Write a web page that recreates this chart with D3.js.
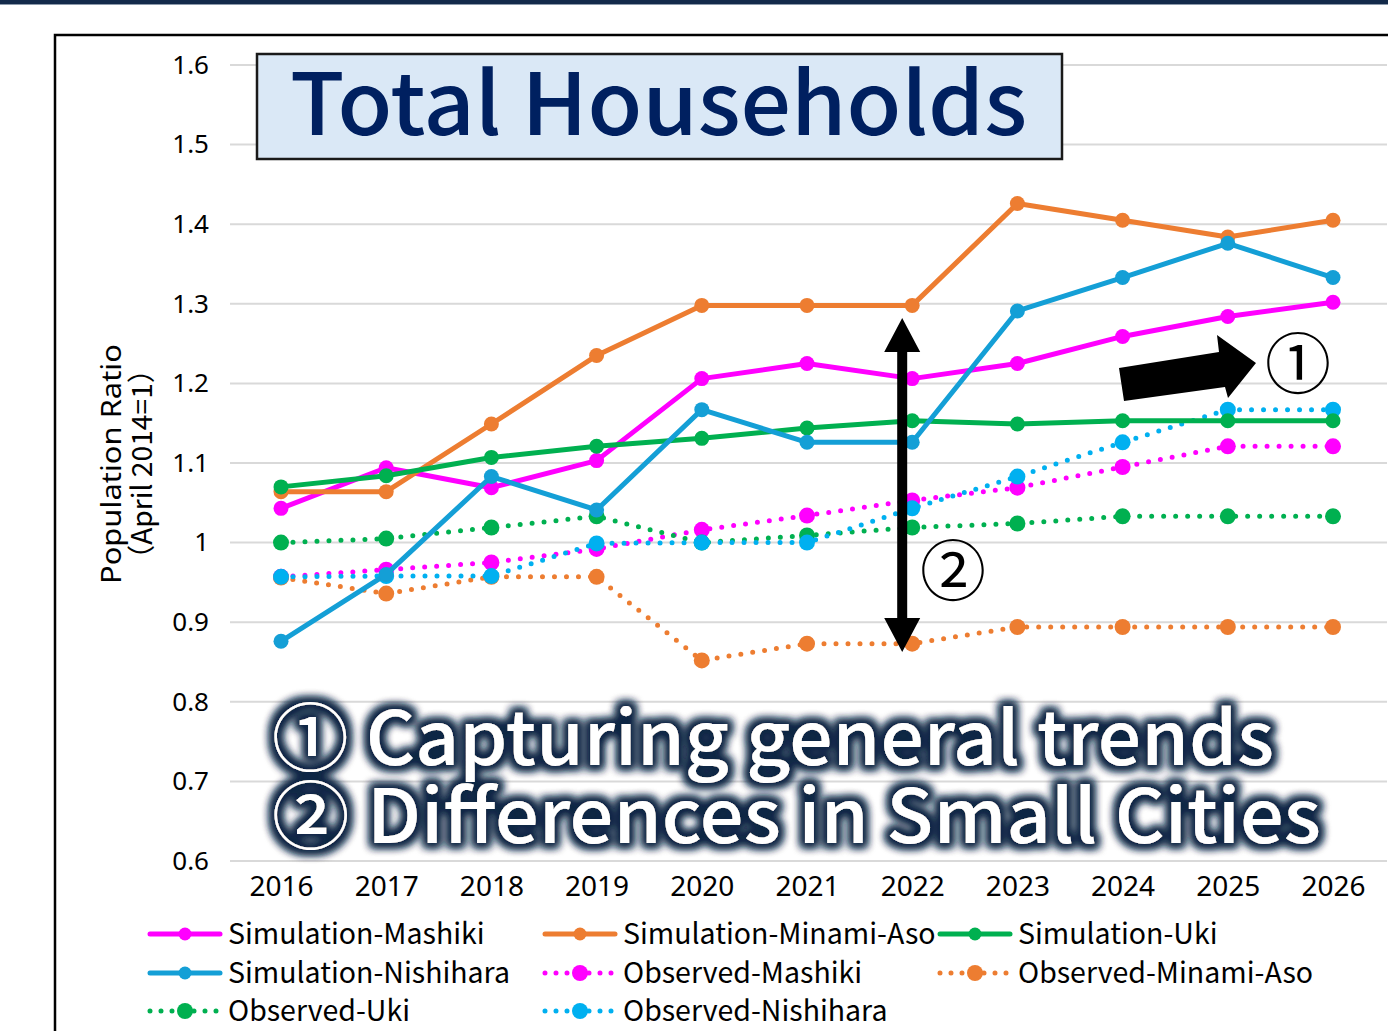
<!DOCTYPE html>
<html lang="en">
<head>
  <meta charset="UTF-8" />
  <title>Total Households</title>
  <script src="https://d3js.org/d3.v7.min.js"></script>
  <style>
    body { margin: 0; padding: 0; background: #fff; }
    svg { display: block; font-family: 'Noto Sans CJK JP', 'Noto Sans', sans-serif; }
  </style>
</head>
<body>
  <div id="chart"></div>
  <script>
    // years on the x axis
    const years = [2016, 2017, 2018, 2019, 2020, 2021, 2022, 2023, 2024, 2025, 2026];
    const yTicks = [0.6, 0.7, 0.8, 0.9, 1.0, 1.1, 1.2, 1.3, 1.4, 1.5, 1.6];

    // values
    const simMashiki   = [1.043, 1.094, 1.069, 1.103, 1.206, 1.225, 1.206, 1.225, 1.259, 1.284, 1.302];
    const simMinamiAso = [1.064, 1.064, 1.149, 1.235, 1.298, 1.298, 1.298, 1.426, 1.405, 1.384, 1.405];
    const simUki       = [1.070, 1.084, 1.107, 1.121, 1.131, 1.144, 1.153, 1.149, 1.153, 1.153, 1.153];
    const simNishihara = [0.876, 0.960, 1.083, 1.041, 1.167, 1.126, 1.126, 1.291, 1.333, 1.376, 1.333];
    const obsMashiki   = [0.957, 0.966, 0.975, 0.992, 1.016, 1.034, 1.053, 1.069, 1.095, 1.121, 1.121];
    const obsMinamiAso = [0.956, 0.936, 0.957, 0.957, 0.852, 0.873, 0.873, 0.894, 0.894, 0.894, 0.894];
    const obsUki       = [1.000, 1.005, 1.019, 1.033, 1.000, 1.009, 1.019, 1.024, 1.033, 1.033, 1.033];
    const obsNishihara = [0.957, 0.958, 0.958, 0.999, 1.000, 1.000, 1.043, 1.083, 1.126, 1.167, 1.167];

    const series = [
      { name: "Simulation-Mashiki",   values: simMashiki,   color: "#FF00FF", dotted: false },
      { name: "Simulation-Minami-Aso", values: simMinamiAso, color: "#ED7D31", dotted: false },
      { name: "Simulation-Uki",       values: simUki,       color: "#00B050", dotted: false },
      { name: "Simulation-Nishihara", values: simNishihara, color: "#149FD6", dotted: false },
      { name: "Observed-Mashiki",     values: obsMashiki,   color: "#FF00FF", dotted: true },
      { name: "Observed-Minami-Aso",  values: obsMinamiAso, color: "#ED7D31", dotted: true },
      { name: "Observed-Uki",         values: obsUki,       color: "#00B050", dotted: true },
      { name: "Observed-Nishihara",   values: obsNishihara, color: "#00B0F0", dotted: true }
    ];

    const W = 1388, H = 1031;
    const svg = d3.select("#chart").append("svg").attr("width", W).attr("height", H);

    // glow filter for the annotation text
    const defs = svg.append("defs");
    const glow = defs.append("filter").attr("id", "glow")
      .attr("x", "-10%").attr("y", "-30%").attr("width", "120%").attr("height", "160%");
    glow.append("feMorphology").attr("in", "SourceAlpha").attr("operator", "dilate").attr("radius", 4).attr("result", "d");
    glow.append("feGaussianBlur").attr("in", "d").attr("stdDeviation", 4).attr("result", "b");
    glow.append("feFlood").attr("flood-color", "#0f2745");
    glow.append("feComposite").attr("in2", "b").attr("operator", "in").attr("result", "s");
    const merge = glow.append("feMerge");
    merge.append("feMergeNode").attr("in", "s");
    merge.append("feMergeNode").attr("in", "s");
    merge.append("feMergeNode").attr("in", "SourceGraphic");

    // top band and frame
    svg.append("rect").attr("x", 0).attr("y", 0).attr("width", W).attr("height", 4).attr("fill", "#132a4a");
    svg.append("rect").attr("x", 0).attr("y", 4).attr("width", W).attr("height", 1).attr("fill", "#8c9aab");
    svg.append("rect").attr("x", 55).attr("y", 35).attr("width", W).attr("height", H)
      .attr("fill", "none").attr("stroke", "#000").attr("stroke-width", 2.5);

    const x = d3.scalePoint().domain(years).range([281, 1333]);
    const y = d3.scaleLinear().domain([0.6, 1.6]).range([861, 65]);

    // gridlines
    svg.append("g").selectAll("line").data(yTicks).join("line")
      .attr("x1", 230).attr("x2", 1387)
      .attr("y1", d => y(d)).attr("y2", d => y(d))
      .attr("stroke", "#d9d9d9").attr("stroke-width", 2);

    // y axis labels
    const yAxis = svg.append("g").attr("transform", "translate(214,0)")
      .call(d3.axisLeft(y).tickValues(yTicks).tickSize(0).tickPadding(5)
        .tickFormat(d => d === 1 ? "1" : d3.format(".1f")(d)));
    yAxis.select(".domain").remove();
    yAxis.selectAll("text").attr("font-size", 26).attr("fill", "#000")
      .attr("font-family", "'Noto Sans', sans-serif");

    // x axis labels
    const xAxis = svg.append("g").attr("transform", "translate(0,872)")
      .call(d3.axisBottom(x).tickSize(0).tickPadding(4).tickFormat(d3.format("d")));
    xAxis.select(".domain").remove();
    xAxis.selectAll("text").attr("font-size", 28).attr("fill", "#000")
      .attr("font-family", "'Noto Sans', sans-serif");

    // y title
    const yt = svg.append("text").attr("transform", "translate(0,464) rotate(-90)")
      .attr("text-anchor", "middle").attr("font-size", 28).attr("fill", "#000")
      .attr("font-family", "'Noto Sans', sans-serif");
    yt.append("tspan").attr("x", 0).attr("y", 121)
      .attr("textLength", 240).attr("lengthAdjust", "spacingAndGlyphs")
      .text("Population Ratio");
    yt.append("tspan").attr("x", 0).attr("y", 152)
      .attr("textLength", 218).attr("lengthAdjust", "spacingAndGlyphs")
      .attr("font-family", "'Noto Sans CJK JP', sans-serif")
      .text("（April 2014=1）");

    // title box
    svg.append("rect").attr("x", 257).attr("y", 54).attr("width", 805).attr("height", 105)
      .attr("fill", "#DAE8F6").attr("stroke", "#1a1a1a").attr("stroke-width", 2.5);
    svg.append("text").attr("x", 290).attr("y", 135)
      .attr("font-size", 86).attr("font-weight", 500).attr("fill", "#002060")
      .attr("textLength", 737).attr("lengthAdjust", "spacingAndGlyphs")
      .text("Total Households");

    // lines
    const line = d3.line().x((d, i) => x(years[i])).y(d => y(d));
    const lines = svg.append("g");
    // dotted first, solid on top
    const order = series.filter(s => s.dotted).concat(series.filter(s => !s.dotted));
    order.forEach(s => {
      const g = lines.append("g");
      g.append("path").datum(s.values).attr("d", line)
        .attr("fill", "none").attr("stroke", s.color)
        .attr("stroke-width", 5)
        .attr("stroke-linecap", s.dotted ? "round" : "butt")
        .attr("stroke-linejoin", "round")
        .attr("stroke-dasharray", s.dotted ? "0 12" : null);
      g.selectAll("circle").data(s.values).join("circle")
        .attr("cx", (d, i) => x(years[i])).attr("cy", d => y(d))
        .attr("r", s.dotted ? 8 : 7.5).attr("fill", s.color);
    });

    // annotation arrows
    const ann = svg.append("g");
    const ax = x(2022) - 10;
    const vTop = 318, vBot = 652;
    ann.append("path")
      .attr("d", `M${ax},${vTop} L${ax + 18},${vTop + 34} L${ax + 5},${vTop + 34} L${ax + 5},${vBot - 34} L${ax + 18},${vBot - 34} L${ax},${vBot} L${ax - 18},${vBot - 34} L${ax - 5},${vBot - 34} L${ax - 5},${vTop + 34} L${ax - 18},${vTop + 34} Z`)
      .attr("fill", "#000");
    ann.append("path")
      .attr("d", "M1119,368 L1219,352 L1217,335 L1256,363 L1228,398 L1225,387 L1124,401 Z")
      .attr("fill", "#000");
    ann.append("text").attr("x", 1298).attr("y", 388).attr("text-anchor", "middle")
      .attr("font-size", 66).attr("fill", "#000").text("①");
    ann.append("text").attr("x", 953).attr("y", 595).attr("text-anchor", "middle")
      .attr("font-size", 66).attr("fill", "#000").text("②");

    // big annotation text
    const big = svg.append("g").attr("filter", "url(#glow)")
      .attr("fill", "#fff").attr("font-size", 74).attr("font-weight", 500);
    big.append("text").attr("x", 272).attr("y", 765)
      .attr("textLength", 1002).attr("lengthAdjust", "spacingAndGlyphs")
      .text("① Capturing general trends");
    big.append("text").attr("x", 272).attr("y", 843)
      .attr("textLength", 1049).attr("lengthAdjust", "spacingAndGlyphs")
      .text("② Differences in Small Cities");

    // legend
    const legCols = [150, 545, 940];
    const legRows = [934, 973, 1011];
    const leg = svg.append("g");
    series.forEach((s, i) => {
      const lx = legCols[i % 3], ly = legRows[Math.floor(i / 3)];
      const g = leg.append("g").attr("transform", `translate(${lx},${ly})`);
      g.append("line").attr("x1", 0).attr("x2", 70).attr("y1", 0).attr("y2", 0)
        .attr("stroke", s.color).attr("stroke-width", 5)
        .attr("stroke-linecap", "round")
        .attr("stroke-dasharray", s.dotted ? "0 11" : null);
      g.append("circle").attr("cx", 35).attr("cy", 0).attr("r", s.dotted ? 8 : 6.5).attr("fill", s.color);
      g.append("text").attr("x", 78).attr("y", 10).attr("font-size", 28.5).attr("fill", "#000")
        .text(s.name);
    });
  </script>
</body>
</html>
